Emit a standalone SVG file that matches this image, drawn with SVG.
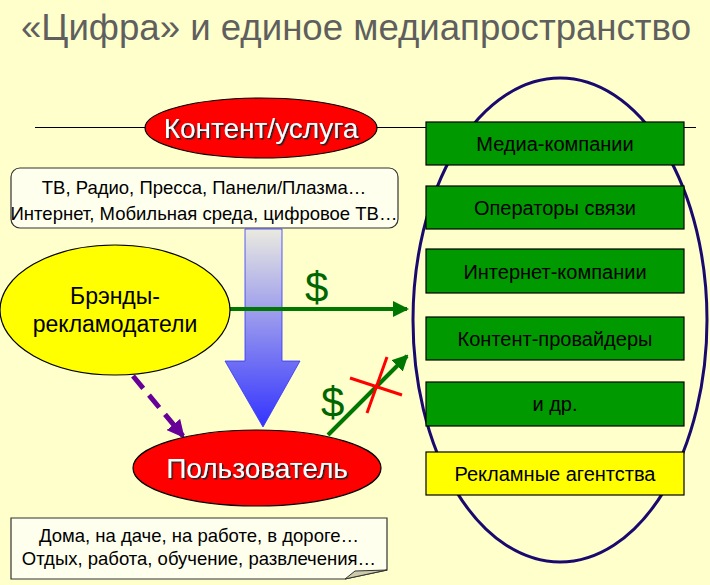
<svg xmlns="http://www.w3.org/2000/svg" width="710" height="585" viewBox="0 0 710 585">
<defs>
<linearGradient id="blueGrad" x1="0" y1="0" x2="0" y2="1">
<stop offset="0" stop-color="#EAEAE0"/>
<stop offset="1" stop-color="#3333FF"/>
</linearGradient>
<marker id="greenHead" markerWidth="4" markerHeight="4" refX="3.5" refY="2" orient="auto" markerUnits="strokeWidth">
<path d="M0,0 L4,2 L0,4 Z" fill="#007700"/>
</marker>
<marker id="purpleHead" markerWidth="3.5" markerHeight="3.5" refX="3" refY="1.75" orient="auto" markerUnits="strokeWidth">
<path d="M0,0 L3.5,1.75 L0,3.5 Z" fill="#660099"/>
</marker>
<filter id="shadow" x="-10%" y="-20%" width="120%" height="140%">
<feDropShadow dx="1.5" dy="1.5" stdDeviation="0.3" flood-color="#222"/>
</filter>
</defs>
<style>
text { font-family: "Liberation Sans", Arial, sans-serif; }
.gbox { fill: #009900; stroke: #000; stroke-width: 1.2; }
.ybox { fill: #FFFF00; stroke: #000; stroke-width: 1.2; }
.boxtxt { font-size: 20px; fill: #000; text-anchor: middle; }
.note { fill: #FFFFEE; stroke: #333; stroke-width: 1.2; }
.notetxt { font-size: 18.5px; fill: #000; text-anchor: middle; }
.redell { fill: #FF0000; stroke: #000; stroke-width: 1.2; }
.redtxt { fill: #FFFFFF; text-anchor: middle; filter: url(#shadow); }
.dollar { font-size: 42px; fill: #006600; }
</style>
<rect width="710" height="585" fill="#FFFFCC"/>
<text x="356" y="40" font-size="37" fill="#5F5F5F" text-anchor="middle" textLength="670" lengthAdjust="spacingAndGlyphs">«Цифра» и единое медиапространство</text>
<line x1="35" y1="127.5" x2="696" y2="127.5" stroke="#000" stroke-width="1.2"/>
<g id="space">
<ellipse cx="560" cy="320" rx="147" ry="242" fill="none" stroke="#1A0A6E" stroke-width="3"/>
</g>
<g id="media"><rect class="gbox" x="426" y="122" width="258" height="43"/><text class="boxtxt" x="555" y="151">Медиа-компании</text></g>
<g id="operators"><rect class="gbox" x="426" y="186" width="258" height="43"/><text class="boxtxt" x="555" y="215">Операторы связи</text></g>
<g id="internet"><rect class="gbox" x="426" y="249" width="258" height="44"/><text class="boxtxt" x="555" y="279">Интернет-компании</text></g>
<g id="providers"><rect class="gbox" x="426" y="317" width="258" height="43"/><text class="boxtxt" x="555" y="346">Контент-провайдеры</text></g>
<g id="others"><rect class="gbox" x="426" y="382" width="258" height="44"/><text class="boxtxt" x="555" y="411">и др.</text></g>
<g id="agencies"><rect class="ybox" x="426" y="452" width="258" height="43"/><text class="boxtxt" x="555" y="481">Рекламные агентства</text></g>
<g id="content">
<ellipse class="redell" cx="261" cy="128" rx="116" ry="30"/>
<text class="redtxt" x="261" y="138" font-size="28">Контент/услуга</text>
</g>
<g id="channels">
<rect class="note" x="11" y="168" width="387" height="60" rx="9"/>
<text class="notetxt" x="204" y="194">ТВ, Радио, Пресса, Панели/Плазма…</text>
<text class="notetxt" x="204" y="220">Интернет, Мобильная среда, цифровое ТВ…</text>
</g>
<g id="connectors">
<path d="M245,229 H282 V361 H300 L263,427 L225,361 H245 Z" fill="url(#blueGrad)" stroke="#3333FF" stroke-width="0.8"/>
<line x1="230" y1="309" x2="407" y2="309" stroke="#007700" stroke-width="4" marker-end="url(#greenHead)"/>
<text class="dollar" x="305" y="302">$</text>
<line x1="328" y1="435" x2="407" y2="356" stroke="#007700" stroke-width="4" marker-end="url(#greenHead)"/>
<text class="dollar" x="321" y="417">$</text>
<line x1="350" y1="378" x2="402" y2="395" stroke="#FF0000" stroke-width="3"/>
<line x1="387" y1="357" x2="367" y2="413" stroke="#FF0000" stroke-width="3"/>
<line x1="133" y1="376" x2="183" y2="436" stroke="#660099" stroke-width="5" stroke-dasharray="16,9" marker-end="url(#purpleHead)"/>
</g>
<g id="brands">
<ellipse cx="115" cy="310" rx="115" ry="65" fill="#FFFF00" stroke="#000" stroke-width="1.2"/>
<text x="115" y="304" font-size="23" text-anchor="middle" fill="#000">Брэнды-</text>
<text x="115" y="332" font-size="23" text-anchor="middle" fill="#000">рекламодатели</text>
</g>
<g id="user">
<ellipse class="redell" cx="257" cy="468" rx="124" ry="38"/>
<text class="redtxt" x="257" y="478" font-size="28">Пользователь</text>
</g>
<g id="contexts">
<path class="note" d="M11,518 H387 V570 L345,579 H11 Z"/>
<path d="M345,579 L355,571 L387,570 Z" fill="#CCCCAA" stroke="#333" stroke-width="1"/>
<text class="notetxt" x="199" y="542">Дома, на даче, на работе, в дороге…</text>
<text class="notetxt" x="199" y="565">Отдых, работа, обучение, развлечения…</text>
</g>
</svg>
